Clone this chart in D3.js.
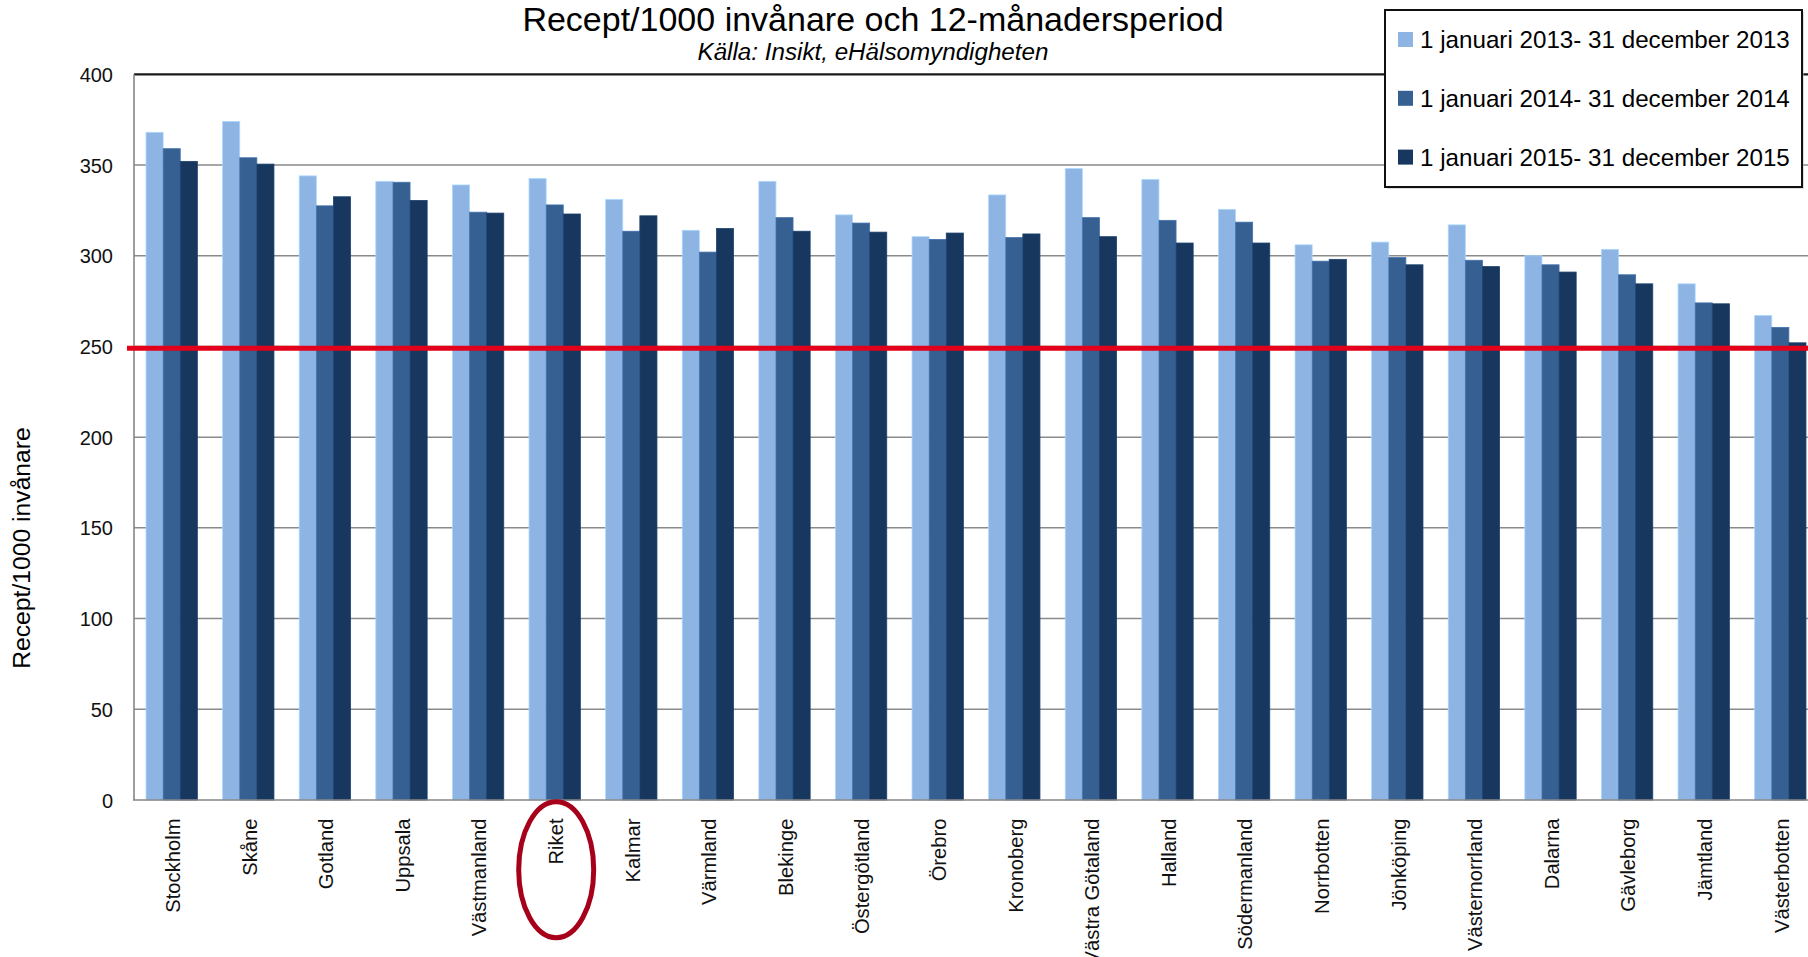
<!DOCTYPE html>
<html>
<head>
<meta charset="utf-8">
<script src="https://cdn.jsdelivr.net/npm/d3@7"></script>
<style>
  html, body { margin: 0; padding: 0; background: #fff; }
  svg { display: block; font-family: "Liberation Sans", Arial, sans-serif; }
</style>
</head>
<body>
<svg id="chart" width="1808" height="957"></svg>
<script>
const categories = ["Stockholm", "Skåne", "Gotland", "Uppsala", "Västmanland", "Riket", "Kalmar", "Värmland", "Blekinge", "Östergötland", "Örebro", "Kronoberg", "Västra Götaland", "Halland", "Södermanland", "Norrbotten", "Jönköping", "Västernorrland", "Dalarna", "Gävleborg", "Jämtland", "Västerbotten"];
const series2013 = [368, 374, 344, 341, 339, 342.5, 331, 314, 341, 322.5, 310.5, 333.5, 348, 342, 325.5, 306, 307.5, 317, 300, 303.5, 284.5, 267];
const series2014 = [359, 354, 327.5, 340.5, 324, 328, 313.5, 302, 321, 318, 309, 310, 321, 319.5, 318.5, 297, 299, 297.5, 295, 289.5, 274, 260.5];
const series2015 = [352, 350.5, 332.5, 330.5, 323.5, 323, 322, 315, 313.5, 313, 312.5, 312, 310.5, 307, 307, 298, 295, 294, 291, 284.5, 273.5, 252];
const seriesNames = ["1 januari 2013- 31 december 2013", "1 januari 2014- 31 december 2014", "1 januari 2015- 31 december 2015"];
const seriesColors = ["#8eb4e3", "#376092", "#17375e"];
const yTicks = [0, 50, 100, 150, 200, 250, 300, 350, 400];
const referenceValue = 249;
const highlighted = "Riket";
const titleText = "Recept/1000 invånare och 12-månadersperiod";
const subtitleText = "Källa: Insikt, eHälsomyndigheten";
const yAxisTitle = "Recept/1000 invånare";

(function () {
const allSeries = [series2013, series2014, series2015];
const svg = d3.select("#chart");

const plotLeft = 134, plotRight = 1818, plotTop = 74.3, plotBottom = 800;

const x0 = d3.scaleBand().domain(categories).range([plotLeft, plotRight]).paddingInner(0.33).paddingOuter(0.157);
const x1 = d3.scaleBand().domain(d3.range(allSeries.length)).range([0, x0.bandwidth()]).padding(0);
const y = d3.scaleLinear().domain([0, 400]).range([plotBottom, plotTop]);

// gridlines
svg.append("g").selectAll("line").data(yTicks.filter(d => d > 0 && d < 400)).join("line")
  .attr("x1", plotLeft).attr("x2", 1808).attr("y1", d => y(d)).attr("y2", d => y(d))
  .attr("stroke", "#8a8a8a").attr("stroke-width", 1.5);

// top border
svg.append("line").attr("x1", plotLeft).attr("x2", 1808).attr("y1", y(400)).attr("y2", y(400))
  .attr("stroke", "#1a1a1a").attr("stroke-width", 2.2);

// bars
const groups = svg.append("g").selectAll("g").data(categories).join("g")
  .attr("transform", d => `translate(${x0(d)},0)`);
groups.selectAll("rect").data((d, i) => allSeries.map((s, k) => ({k, v: s[i]}))).join("rect")
  .attr("x", d => x1(d.k)).attr("width", x1.bandwidth())
  .attr("y", d => y(d.v)).attr("height", d => y(0) - y(d.v))
  .attr("fill", d => seriesColors[d.k])
  .attr("stroke", d => d3.color(seriesColors[d.k]).brighter(0.5))
  .attr("stroke-width", 0.8);

// axes lines
svg.append("line").attr("x1", plotLeft).attr("x2", plotLeft).attr("y1", y(400)).attr("y2", y(0))
  .attr("stroke", "#868686").attr("stroke-width", 1.6);
svg.append("line").attr("x1", plotLeft - 1).attr("x2", 1808).attr("y1", y(0)).attr("y2", y(0))
  .attr("stroke", "#868686").attr("stroke-width", 1.6);

// y axis tick labels
const yAxis = d3.axisLeft(y).tickValues(yTicks).tickSize(0).tickPadding(21);
const gy = svg.append("g").attr("transform", `translate(${plotLeft},0)`).call(yAxis);
gy.select(".domain").remove();
gy.selectAll("text").attr("font-size", 20).attr("font-family", "'Liberation Sans', Arial, sans-serif").attr("fill", "#111").attr("dy", "0.35em");

// reference line
svg.append("line").attr("x1", 127).attr("x2", 1808).attr("y1", y(referenceValue)).attr("y2", y(referenceValue))
  .attr("stroke", "#e2001a").attr("stroke-width", 5);

// x category labels
const xAxis = d3.axisBottom(x0).tickSize(0).tickPadding(0);
const gx = svg.append("g").attr("transform", `translate(0,${y(0)})`).call(xAxis);
gx.select(".domain").remove();
gx.selectAll("text")
  .attr("font-size", 20.2).attr("font-family", "'Liberation Sans', Arial, sans-serif").attr("fill", "#111")
  .attr("text-anchor", "end")
  .attr("transform", "translate(1,18.5) rotate(-90)")
  .attr("x", 0).attr("y", 0).attr("dy", "0.36em");

// highlight ellipse
svg.append("ellipse")
  .attr("cx", x0(highlighted) + x0.bandwidth() / 2 + 1.5)
  .attr("cy", 869.7).attr("rx", 37.5).attr("ry", 68)
  .attr("fill", "none").attr("stroke", "#a6001a").attr("stroke-width", 5);

// title & subtitle
svg.append("text").attr("x", 873).attr("y", 31).attr("text-anchor", "middle")
  .attr("font-size", 34).attr("fill", "#000").text(titleText);
svg.append("text").attr("x", 873).attr("y", 60).attr("text-anchor", "middle")
  .attr("font-size", 24.2).attr("font-style", "italic").attr("fill", "#000").text(subtitleText);

// y axis title
svg.append("text").attr("transform", "translate(30,548) rotate(-90)").attr("text-anchor", "middle")
  .attr("font-size", 24.7).attr("fill", "#000").text(yAxisTitle);

// legend
const lg = svg.append("g");
lg.append("rect").attr("x", 1387).attr("y", 12).attr("width", 417).attr("height", 177).attr("fill", "#bbb").attr("opacity", 0.5);
lg.append("rect").attr("x", 1385).attr("y", 10).attr("width", 417).attr("height", 177)
  .attr("fill", "#fff").attr("stroke", "#111").attr("stroke-width", 2);
const rows = lg.selectAll("g.row").data(seriesNames).join("g").attr("class", "row")
  .attr("transform", (d, i) => `translate(1398,${39.5 + i * 58.8})`);
rows.append("rect").attr("x", 0).attr("y", -7.5).attr("width", 15).attr("height", 15)
  .attr("fill", (d, i) => seriesColors[i]);
rows.append("text").attr("x", 22).attr("y", 0).attr("dy", "0.36em")
  .attr("font-size", 24.2).attr("fill", "#000").text(d => d);
})();
</script>
</body>
</html>
